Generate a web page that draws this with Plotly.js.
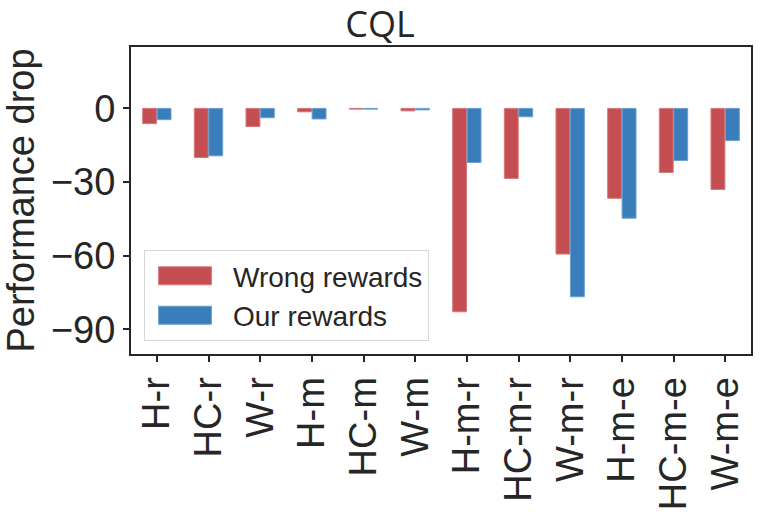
<!DOCTYPE html>
<html>
<head>
<meta charset="utf-8">
<script src="https://cdn.plot.ly/plotly-3.0.1.min.js"></script>
<style>
  body { margin: 0; background: #fff; }
  #plotZone { width: 760px; height: 512px; }
</style>
</head>
<body>
<div id="plotZone"></div>
<script>
// task labels, one bar pair each
var tasks = ["H-r", "HC-r", "W-r", "H-m", "HC-m", "W-m",
             "H-m-r", "HC-m-r", "W-m-r", "H-m-e", "HC-m-e", "W-m-e"];
// drop in performance
var wrongRewards = [-6.2, -20.0, -7.4, -1.4, -0.3, -1.0, -82.8, -28.5, -59.3, -36.6, -26.1, -33.0];
var ourRewards   = [-4.6, -19.3, -3.8, -4.3, -0.3, -0.6, -22.0, -3.4, -76.7, -44.7, -21.2, -13.1];
var yTicks = [0, -30, -60, -90];

var red = "#c44e52";
var blue = "#3a7dbb";
var ink = "#262626";
var sans = "Liberation Sans, Arial, sans-serif";

var traceWrong = {
    x: tasks,
    y: wrongRewards,
    type: "bar",
    name: "Wrong rewards",
    marker: { color: red, line: { color: "#d9777a", width: 1 } }
};
var traceOurs = {
    x: tasks,
    y: ourRewards,
    type: "bar",
    name: "Our rewards",
    marker: { color: blue, line: { color: "#6a9fd0", width: 1 } }
};

var layout = {
    width: 760,
    height: 512,
    margin: { l: 131, r: 9, t: 47, b: 158 },
    paper_bgcolor: "#fff",
    plot_bgcolor: "#fff",
    barmode: "group",
    bargap: 0.44,
    bargroupgap: 0.04,
    font: { family: sans, color: ink },
    title: {
        text: "CQL",
        font: { family: "Open Sans, Noto Sans, sans-serif", size: 36, color: ink },
        x: 0.5, xanchor: "center",
        y: 0.952, yanchor: "middle"
    },
    xaxis: {
        range: [-0.5, 11.5],
        tickangle: -90,
        tickfont: { size: 38, color: ink },
        ticks: "outside", ticklen: 6, tickwidth: 2, tickcolor: ink,
        showline: true, linecolor: ink, linewidth: 2, mirror: true,
        showgrid: false, zeroline: false
    },
    yaxis: {
        range: [-100, 25],
        tickvals: yTicks,
        ticktext: yTicks.map(function (v) { return v < 0 ? "\u2212" + Math.abs(v) : String(v); }),
        tickfont: { size: 38, color: ink },
        ticks: "outside", ticklen: 6, tickwidth: 2, tickcolor: ink,
        showline: true, linecolor: ink, linewidth: 2, mirror: true,
        showgrid: false, zeroline: false,
        title: { text: "Performance drop", font: { size: 38, color: ink }, standoff: 6 }
    },
    legend: {
        x: 0.021, y: 0.042, xanchor: "left", yanchor: "bottom",
        bgcolor: "rgba(255,255,255,0.9)",
        bordercolor: "#d8d8d8", borderwidth: 1,
        font: { size: 28, color: ink },
        itemwidth: 78,
        tracegroupgap: 4
    },
    showlegend: true
};

Plotly.newPlot("plotZone", [traceWrong, traceOurs], layout, { displayModeBar: false, staticPlot: true })
    .then(function () {
        // matplotlib-style wide legend patches (about 53 x 18 px)
        document.querySelectorAll(".legend .legendpoints path").forEach(function (p) {
            p.setAttribute("transform", "translate(40,0) scale(4.4,1.5)");
            p.style.vectorEffect = "non-scaling-stroke";
        });
    });
</script>
</body>
</html>
